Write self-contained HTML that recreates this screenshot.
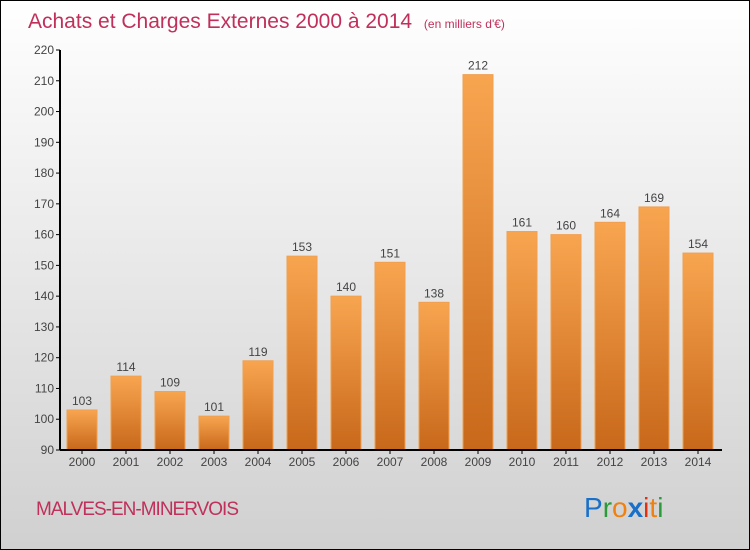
<!DOCTYPE html>
<html><head><meta charset="utf-8"><style>
body{margin:0}
#c{position:relative;width:750px;height:550px;overflow:hidden}
</style></head><body>
<div id="c">
<svg id="s" width="750" height="550" xmlns="http://www.w3.org/2000/svg" font-family="Liberation Sans, sans-serif">
<defs>
<linearGradient id="bg" x1="0" y1="0" x2="0" y2="1"><stop offset="0" stop-color="#ffffff"/><stop offset="1" stop-color="#d0d0d0"/></linearGradient>
<linearGradient id="bar" x1="0" y1="0" x2="0" y2="1"><stop offset="0" stop-color="#f8a550"/><stop offset="1" stop-color="#c8681a"/></linearGradient>
</defs>
<rect x="0.5" y="0.5" width="749" height="549" fill="url(#bg)" stroke="#000"/>
<text x="28" y="28" font-size="21" fill="#c0305a">Achats et Charges Externes 2000 à 2014 <tspan font-size="12" dx="6">(en milliers d'€)</tspan></text>
<text x="36" y="515" font-size="19" fill="#c0305a" letter-spacing="-1">MALVES-EN-MINERVOIS</text>
<g font-size="28">
<text x="584" y="517"><tspan fill="#1a70c8">P</tspan><tspan fill="#2a9a3a">r</tspan><tspan fill="#f08010">o</tspan><tspan fill="#1a70c8" font-weight="bold">x</tspan><tspan fill="#e03010">i</tspan><tspan fill="#f08010">t</tspan><tspan fill="#2a9a3a">i</tspan></text>
</g>
<g id="plot"></g>
</svg>
</div>
<script>
const categories=["2000","2001","2002","2003","2004","2005","2006","2007","2008","2009","2010","2011","2012","2013","2014"];
const values=[103,114,109,101,119,153,140,151,138,212,161,160,164,169,154];
const yTicks=[90,100,110,120,130,140,150,160,170,180,190,200,210,220];
const NS="http://www.w3.org/2000/svg";
const g=document.getElementById('plot');
const y0=450,y1=50,vmin=90,vmax=220;
const y=v=>y0-(v-vmin)/(vmax-vmin)*(y0-y1);
const x=i=>82+i*44;
function mk(t,a){const e=document.createElementNS(NS,t);for(const k in a)e.setAttribute(k,a[k]);g.appendChild(e);return e;}
yTicks.forEach(v=>{
 const l=mk('line',{x1:56,x2:60,y1:y(v),y2:y(v),stroke:'#000'});
 
 
 const t=mk('text',{x:54,y:y(v)+4,'text-anchor':'end','font-size':12,fill:'#444'});
 t.textContent=v;
 
 
});
values.forEach((v,i)=>{
 const r=mk('rect',{x:x(i)-15,y:y(v),width:30,height:y0-y(v),fill:'url(#bar)',stroke:'#f0a050','stroke-width':1});
 
 
 const t=mk('text',{x:x(i),y:y(v)-5,'text-anchor':'middle','font-size':12,fill:'#444'});
 t.textContent=v;
 
 
 const c=mk('text',{x:x(i),y:466,'text-anchor':'middle','font-size':12,fill:'#444'});
 c.textContent=categories[i];
 
 
 const tk=mk('line',{x1:x(i),x2:x(i),y1:450,y2:454,stroke:'#000'});
 
 
});
const ya=mk('line',{x1:60,x2:60,y1:50,y2:450,stroke:'#000','stroke-width':2});


const xa=mk('line',{x1:60,x2:722,y1:450,y2:450,stroke:'#000','stroke-width':2});


</script>
</body></html>
